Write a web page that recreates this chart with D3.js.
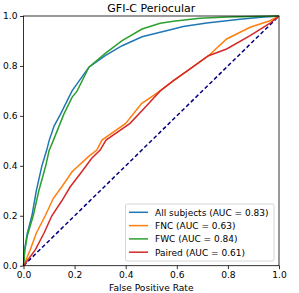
<!DOCTYPE html>
<html>
<head>
<meta charset="utf-8">
<script src="https://cdn.jsdelivr.net/npm/d3@7.9.0/dist/d3.min.js"></script>
<style>
  body { margin: 0; background: #fff; }
  svg { display: block; font-family: "DejaVu Sans", sans-serif; }
</style>
</head>
<body>
<svg id="chart" width="299" height="293"></svg>
<script>
// ROC curves
const allFpr = [0, 0.005, 0.015, 0.033, 0.05, 0.072, 0.09, 0.10, 0.12, 0.145, 0.19, 0.256, 0.32, 0.386, 0.464, 0.535, 0.587, 0.625, 0.717, 0.847, 0.93, 1];
const allTpr = [0, 0.07, 0.13, 0.2, 0.3, 0.4, 0.46, 0.5, 0.56, 0.607, 0.70, 0.795, 0.841, 0.881, 0.917, 0.935, 0.948, 0.958, 0.972, 0.987, 0.995, 1];

const fncFpr = [0, 0.026, 0.05, 0.085, 0.117, 0.15, 0.19, 0.254, 0.287, 0.307, 0.40, 0.462, 0.535, 0.587, 0.652, 0.724, 0.795, 0.887, 0.965, 1];
const fncTpr = [0, 0.063, 0.13, 0.2, 0.27, 0.316, 0.376, 0.437, 0.463, 0.503, 0.57, 0.649, 0.70, 0.741, 0.788, 0.841, 0.908, 0.955, 0.981, 1];

const fwcFpr = [0, 0.005, 0.015, 0.038, 0.06, 0.087, 0.10, 0.116, 0.158, 0.19, 0.21, 0.256, 0.32, 0.386, 0.464, 0.535, 0.587, 0.69, 0.80, 0.9, 1];
const fwcTpr = [0, 0.06, 0.12, 0.2, 0.3, 0.4, 0.46, 0.5, 0.607, 0.674, 0.70, 0.795, 0.85, 0.901, 0.948, 0.971, 0.979, 0.991, 0.996, 0.998, 1];

const pairFpr = [0, 0.046, 0.08, 0.111, 0.15, 0.183, 0.228, 0.267, 0.30, 0.323, 0.417, 0.49, 0.535, 0.587, 0.652, 0.724, 0.795, 0.887, 0.965, 1];
const pairTpr = [0, 0.063, 0.13, 0.2, 0.26, 0.316, 0.376, 0.43, 0.463, 0.503, 0.57, 0.65, 0.70, 0.741, 0.788, 0.841, 0.868, 0.921, 0.971, 1];

const seriesNames = ['All subjects (AUC = 0.83)', 'FNC (AUC = 0.63)', 'FWC (AUC = 0.84)', 'Paired (AUC = 0.61)'];
const colors = ['#1f77b4', '#ff7f0e', '#2ca02c', '#d62728'];
const ticks = [0, 0.2, 0.4, 0.6, 0.8, 1.0];

const series = [
  { fpr: allFpr, tpr: allTpr },
  { fpr: fncFpr, tpr: fncTpr },
  { fpr: fwcFpr, tpr: fwcTpr },
  { fpr: pairFpr, tpr: pairTpr }
];

const svg = d3.select('#chart');
const mLeft = 23.5, mRight = 279, mTop = 16, mBottom = 265.7;

const x = d3.scaleLinear().domain([0, 1]).range([mLeft, mRight]);
const y = d3.scaleLinear().domain([0, 1]).range([mBottom, mTop]);

// diagonal
svg.append('line')
  .attr('x1', x(0)).attr('y1', y(0))
  .attr('x2', x(1)).attr('y2', y(1))
  .attr('stroke', '#000080')
  .attr('stroke-width', 1.5)
  .attr('stroke-dasharray', '4,2.5');

const line = d3.line().x((d) => x(d[0])).y((d) => y(d[1]));

series.forEach((s, i) => {
  svg.append('path')
    .attr('d', line(d3.zip(s.fpr, s.tpr)))
    .attr('fill', 'none')
    .attr('stroke', colors[i])
    .attr('stroke-width', 1.5);
});

// axes
const fmt = d3.format('.1f');
svg.append('g')
  .attr('transform', `translate(0,${mBottom})`)
  .call(d3.axisBottom(x).tickValues(ticks).tickFormat(fmt).tickSize(3.5).tickPadding(2))
  .call((g) => g.select('.domain').remove());
svg.append('g')
  .attr('transform', `translate(${mLeft},0)`)
  .call(d3.axisLeft(y).tickValues(ticks).tickFormat(fmt).tickSize(3.5).tickPadding(2.5))
  .call((g) => g.select('.domain').remove());

svg.selectAll('.tick text')
  .attr('font-family', '"DejaVu Sans", sans-serif')
  .attr('font-size', 9.1)
  .attr('fill', '#000');
svg.selectAll('.tick line').attr('stroke', '#000').attr('stroke-width', 0.8);

// frame
svg.append('rect')
  .attr('x', mLeft).attr('y', mTop)
  .attr('width', mRight - mLeft).attr('height', mBottom - mTop)
  .attr('fill', 'none')
  .attr('stroke', '#000')
  .attr('stroke-width', 0.8);

// title and label
svg.append('text')
  .attr('x', (mLeft + mRight) / 2).attr('y', 11.5)
  .attr('text-anchor', 'middle')
  .attr('font-size', 11)
  .text('GFI-C Periocular');

svg.append('text')
  .attr('x', (mLeft + mRight) / 2).attr('y', 291)
  .attr('text-anchor', 'middle')
  .attr('font-size', 9.1)
  .text('False Positive Rate');

// legend
const legend = svg.append('g');
legend.append('rect')
  .attr('x', 125.5).attr('y', 204)
  .attr('width', 148.5).attr('height', 57)
  .attr('rx', 2)
  .attr('fill', '#fff')
  .attr('fill-opacity', 0.8)
  .attr('stroke', '#ccc')
  .attr('stroke-width', 0.8);

seriesNames.forEach((name, i) => {
  const ly = 212.3 + i * 13.3;
  legend.append('line')
    .attr('x1', 129).attr('x2', 148)
    .attr('y1', ly).attr('y2', ly)
    .attr('stroke', colors[i])
    .attr('stroke-width', 1.5);
  legend.append('text')
    .attr('x', 155).attr('y', ly + 3.3)
    .attr('font-size', 9)
    .text(name);
});
</script>
</body>
</html>
